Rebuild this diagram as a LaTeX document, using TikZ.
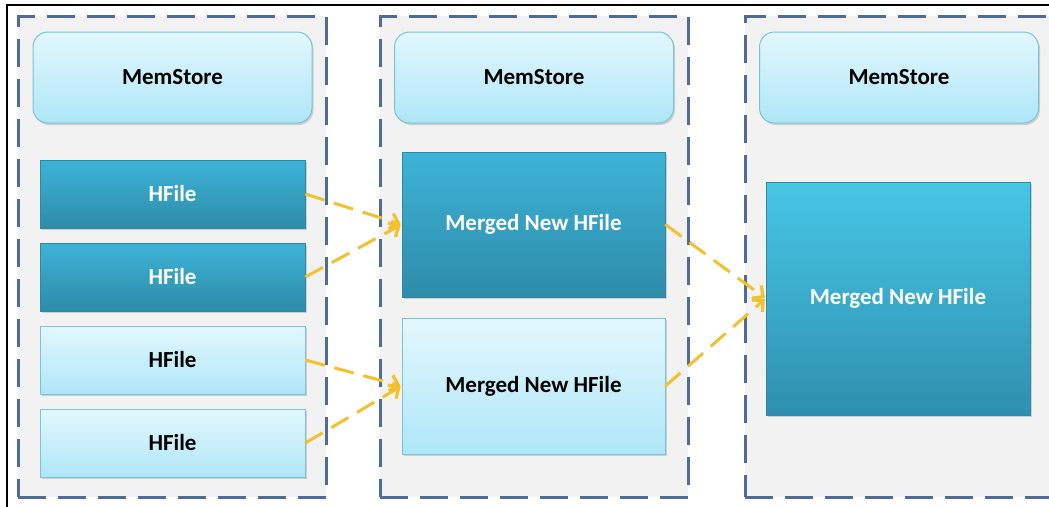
\documentclass[tikz,border=0pt]{standalone}
\usepackage{fontspec}
\setmainfont{Carlito}
\usetikzlibrary{arrows.meta,shadows}

\definecolor{panelfill}{HTML}{F2F2F2}
\definecolor{paneledge}{HTML}{4F6C96}
\definecolor{flow}{HTML}{F2C12E}
\definecolor{darktop}{HTML}{3DB3D8}
\definecolor{darkbot}{HTML}{2E8CA8}
\definecolor{darkedge}{HTML}{2C8AA4}
\definecolor{brighttop}{HTML}{47C6E6}
\definecolor{brightbot}{HTML}{2F8FAE}
\definecolor{lighttop}{HTML}{E3F7FD}
\definecolor{lightbot}{HTML}{AEE7F8}
\definecolor{lightedge}{HTML}{7CC3D6}

\tikzset{
  panel/.style={draw=paneledge, line width=3pt, fill=panelfill,
    dash pattern=on 28pt off 12pt, inner sep=0pt},
  boxbase/.style={inner sep=0pt, font=\bfseries\fontsize{23}{27}\selectfont,
    drop shadow={shadow xshift=1.5pt, shadow yshift=-2pt, opacity=0.3}},
  memstore/.style={boxbase, rounded corners=15pt, draw=lightedge, line width=1pt,
    top color=lighttop, bottom color=lightbot, text=black,
    minimum width=279pt, minimum height=91pt},
  darkfile/.style={boxbase, draw=darkedge, line width=0.8pt,
    top color=darktop, bottom color=darkbot, text=white},
  lightfile/.style={boxbase, draw=lightedge, line width=0.8pt,
    top color=lighttop, bottom color=lightbot, text=black},
  brightfile/.style={boxbase, draw=darkedge, line width=0.8pt,
    top color=brighttop, bottom color=brightbot, text=white},
  hfile/.style={minimum width=265pt, minimum height=68pt},
  flowarrow/.style={draw=flow, line width=3pt, dash pattern=on 20pt off 10pt,
    -{Straight Barb[length=8pt, width=16pt, line width=3.2pt]}, shorten >=1pt}
}

\begin{document}
\begin{tikzpicture}[x=1pt, y=-1pt]
  \useasboundingbox (0,0) rectangle (1049,506);
  \clip (0,0) rectangle (1049,506);
  \fill[white] (0,0) rectangle (1049,506);

  % outer frame
  \draw[black, line width=1.5pt] (7,520) -- (7,5) -- (1060,5);

  % three store panels
  \node[panel, minimum width=308pt, minimum height=481pt] (p1) at (172,256.5) {};
  \node[panel, minimum width=308pt, minimum height=481pt] (p2) at (534,256.5) {};
  \node[panel, minimum width=330pt, minimum height=481pt] (p3) at (910,256.5) {};

  % memstores
  \node[memstore] (ms1) at (172.5,77.5) {MemStore};
  \node[memstore] (ms2) at (534,77.5) {MemStore};
  \node[memstore] (ms3) at (899,77.5) {MemStore};

  % original hfiles
  \node[darkfile, hfile] (h1) at (172.5,194) {HFile};
  \node[darkfile, hfile] (h2) at (172.5,277) {HFile};
  \node[lightfile, hfile] (h3) at (172.5,360) {HFile};
  \node[lightfile, hfile] (h4) at (172.5,443) {HFile};

  % first merge
  \node[darkfile, minimum width=263pt, minimum height=145pt] (m1) at (533.5,224.5) {Merged New HFile};
  \node[lightfile, minimum width=263pt, minimum height=136pt] (m2) at (533.5,386) {Merged New HFile};

  % second merge
  \node[brightfile, minimum width=264pt, minimum height=233pt] (m3) at (898,298.5) {Merged New HFile};

  % compaction flows
  \draw[flowarrow] (h1.east) -- (m1.west);
  \draw[flowarrow] (h2.east) -- (m1.west);
  \draw[flowarrow] (h3.east) -- (m2.west);
  \draw[flowarrow] (h4.east) -- (m2.west);
  \draw[flowarrow] (m1.east) -- (m3.west);
  \draw[flowarrow] (m2.east) -- (m3.west);
\end{tikzpicture}
\end{document}
